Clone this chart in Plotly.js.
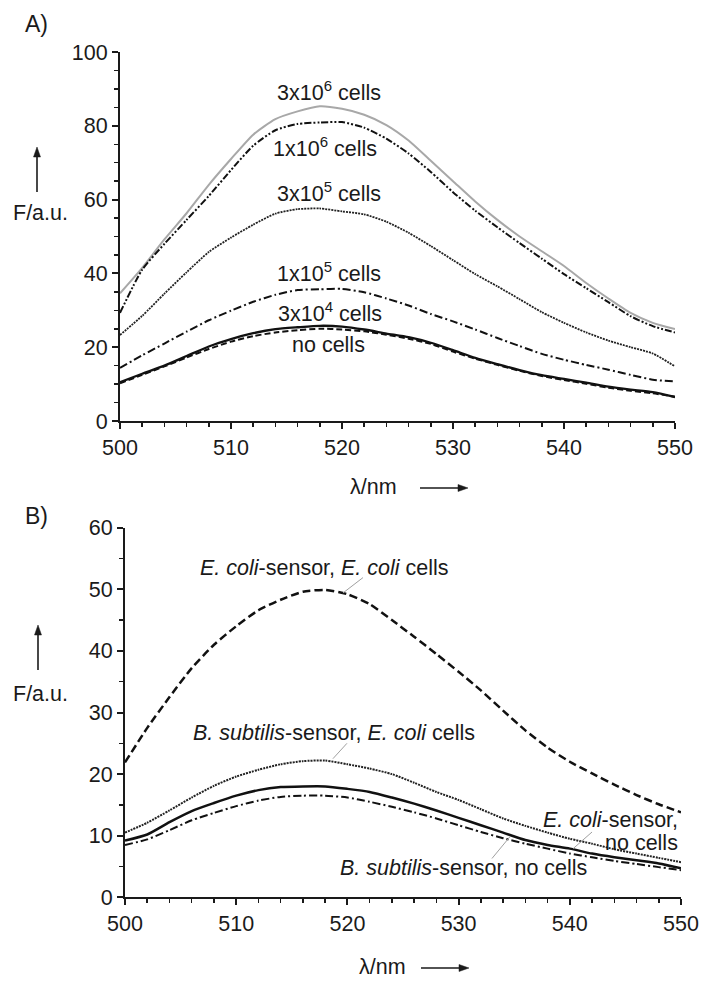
<!DOCTYPE html>
<html>
<head>
<meta charset="utf-8">
<script src="https://cdn.plot.ly/plotly-3.0.1.min.js"></script>
<style>html,body{margin:0;padding:0;background:#fff;}#chart{width:714px;height:987px;}</style>
</head>
<body>
<div id="chart"></div>
<script>
// ---------- DATA ----------
const wavelength = [500,502,504,506,508,510,512,514,516,518,520,522,524,526,528,530,532,534,536,538,540,542,544,546,548,550];

// Panel A
const cells3e6 = [34.6,41.5,49.2,56.3,64.0,71.0,77.6,81.8,83.9,85.3,84.6,83.0,80.2,76.0,70.5,65.0,59.5,54.5,50.0,46.0,42.0,37.4,33.2,29.3,26.6,24.9];
const cells1e6 = [29.3,41.0,48.0,54.5,61.0,68.0,74.6,78.8,80.5,80.9,81.0,79.5,76.5,72.5,67.5,62.0,57.0,52.5,48.2,44.0,39.8,36.0,32.2,28.4,25.7,24.0];
const cells3e5 = [23.3,28.5,34.5,40.3,45.8,49.7,53.2,56.2,57.4,57.6,56.8,56.0,54.0,51.0,47.4,43.6,39.8,36.5,33.0,29.5,26.6,24.0,21.8,20.0,18.3,14.8];
const cells1e5 = [14.4,17.8,21.0,24.2,27.3,29.9,32.3,34.2,35.5,35.7,35.8,34.9,33.2,31.3,29.0,27.0,24.8,22.5,20.3,18.2,16.6,15.2,13.9,12.5,11.2,10.7];
const cells3e4 = [10.5,12.8,15.0,17.6,20.2,22.2,23.8,24.9,25.4,25.8,25.6,24.8,23.7,22.7,21.2,19.2,17.1,15.4,13.8,12.4,11.4,10.4,9.3,8.5,7.8,6.5];
const noCells  = [10.2,12.5,14.8,17.2,19.5,21.5,23.0,24.0,24.6,25.0,24.8,24.3,23.4,22.3,20.9,18.8,16.9,15.2,13.6,12.2,11.1,10.1,9.0,8.2,7.5,6.6];

// Panel B
const ecoliSensorEcoli = [21.9,27.5,32.5,37.2,41.0,44.0,46.6,48.3,49.6,49.9,49.2,47.6,45.0,42.3,39.5,36.6,33.6,30.3,27.1,24.3,22.0,20.1,18.3,16.6,15.1,13.8];
const bsubSensorEcoli  = [10.5,12.1,14.1,16.2,18.1,19.6,20.7,21.6,22.1,22.2,21.6,20.9,20.0,18.6,17.1,15.8,14.3,12.8,11.6,10.5,9.5,8.7,7.8,7.1,6.4,5.7];
const ecoliSensorNone  = [9.2,10.2,12.2,14.0,15.3,16.5,17.4,17.9,18.0,18.0,17.6,17.1,16.2,15.2,14.1,12.9,11.7,10.5,9.3,8.5,7.9,7.1,6.5,6.0,5.5,4.7];
const bsubSensorNone   = [8.5,9.4,10.9,12.5,13.7,14.8,15.7,16.3,16.5,16.5,16.2,15.5,14.7,13.8,12.8,11.7,10.6,9.6,8.7,7.9,7.1,6.5,5.9,5.4,4.9,4.4];

const xTicks = [500,510,520,530,540,550];
const labelsA = ['3x10<sup>6</sup> cells','1x10<sup>6</sup> cells','3x10<sup>5</sup> cells','1x10<sup>5</sup> cells','3x10<sup>4</sup> cells','no cells'];
const labelsB = ['<i>E. coli</i>-sensor, <i>E. coli</i> cells','<i>B. subtilis</i>-sensor, <i>E. coli</i> cells','<i>E. coli</i>-sensor,','no cells','<i>B. subtilis</i>-sensor, no cells'];

// ---------- LAYOUT HELPERS ----------
const W = 714, H = 987;
const px = v => v / W;
const py = v => (H - v) / H;
const FONT = 'Liberation Sans, Arial, Helvetica, sans-serif';
const FS = 21.5;
const INK = '#1a1a1a';

function line(x, y, xa, ya, color, width, dash) {
  return {x: x, y: y, xaxis: xa, yaxis: ya, type: 'scatter', mode: 'lines',
    line: {color: color, width: width, dash: dash, shape: 'spline', smoothing: 0.6},
    hoverinfo: 'skip', showlegend: false};
}

const traces = [
  line(wavelength, cells3e6, 'x', 'y', '#a8a8a8', 2, 'solid'),
  line(wavelength, cells1e6, 'x', 'y', '#111', 2, '7px,2px,2px,2px,2px,2px'),
  line(wavelength, cells3e5, 'x', 'y', '#222', 1.8, '2px,1px'),
  line(wavelength, cells1e5, 'x', 'y', '#111', 2, '8px,3px,2px,3px'),
  line(wavelength, noCells,  'x', 'y', '#111', 2, '6px,3px'),
  line(wavelength, cells3e4, 'x', 'y', '#111', 2.3, 'solid'),
  line(wavelength, ecoliSensorEcoli, 'x2', 'y2', '#111', 2.5, '8px,4px'),
  line(wavelength, bsubSensorEcoli,  'x2', 'y2', '#222', 2, '2px,1px'),
  line(wavelength, ecoliSensorNone,  'x2', 'y2', '#111', 2.5, 'solid'),
  line(wavelength, bsubSensorNone,   'x2', 'y2', '#111', 2, '8px,3px,2px,3px')
];

function xAxis(domain, anchor) {
  return {domain: domain, anchor: anchor, range: [500, 550], tickvals: xTicks,
    showline: true, linecolor: INK, linewidth: 2, ticks: 'outside', ticklen: 6, tickwidth: 2, tickcolor: INK,
    minor: {dtick: 2, tick0: 500, ticks: 'outside', ticklen: 4, tickwidth: 1.5, tickcolor: INK, showgrid: false},
    showgrid: false, zeroline: false, fixedrange: true,
    tickfont: {family: FONT, size: FS, color: INK}};
}
function yAxis(domain, anchor, range, dtick, minorDtick) {
  return {domain: domain, anchor: anchor, range: range, dtick: dtick, tick0: 0,
    showline: true, linecolor: INK, linewidth: 2, ticks: 'outside', ticklen: 6, tickwidth: 2, tickcolor: INK,
    minor: {dtick: minorDtick, tick0: 0, ticks: 'outside', ticklen: 4, tickwidth: 1.5, tickcolor: INK, showgrid: false},
    showgrid: false, zeroline: false, fixedrange: true,
    tickfont: {family: FONT, size: FS, color: INK}};
}

function txt(text, x, y, xref, yref, opts) {
  return Object.assign({text: text, x: x, y: y, xref: xref, yref: yref, showarrow: false,
    font: {family: FONT, size: FS, color: INK}, xanchor: 'center', yanchor: 'middle'}, opts || {});
}

const annotations = [
  // panel letters
  txt('A)', px(36), py(24), 'paper', 'paper', {font: {family: FONT, size: 23, color: INK}}),
  txt('B)', px(36), py(516), 'paper', 'paper', {font: {family: FONT, size: 23, color: INK}}),
  // y titles
  txt('F/a.u.', px(40), py(213), 'paper', 'paper'),
  txt('F/a.u.', px(40), py(694), 'paper', 'paper'),
  // x titles
  txt('λ/nm', px(348), py(487), 'paper', 'paper', {xanchor: 'left'}),
  txt('λ/nm', px(357), py(967), 'paper', 'paper', {xanchor: 'left'}),
  // panel A curve labels
  txt(labelsA[0], 518.8, 89.4, 'x', 'y'),
  txt(labelsA[1], 518.5, 74.3, 'x', 'y'),
  txt(labelsA[2], 518.8, 62.1, 'x', 'y'),
  txt(labelsA[3], 518.8, 40.4, 'x', 'y'),
  txt(labelsA[4], 518.9, 29.5, 'x', 'y'),
  txt(labelsA[5], 518.8, 20.6, 'x', 'y'),
  // panel B curve labels
  txt(labelsB[0], 517.9, 53.5, 'x2', 'y2'),
  txt(labelsB[1], 518.8, 26.6, 'x2', 'y2'),
  txt(labelsB[2], 549.9, 12.5, 'x2', 'y2', {xanchor: 'right'}),
  txt(labelsB[3], 549.9, 8.75, 'x2', 'y2', {xanchor: 'right'}),
  txt(labelsB[4], 530.4, 4.7, 'x2', 'y2')
];

function leader(x0, y0, x1, y1) {
  return {type: 'line', xref: 'x2', yref: 'y2', x0: x0, y0: y0, x1: x1, y1: y1,
    line: {color: '#a0a0a0', width: 1}};
}
// arrows drawn as paper-space shapes (shaft + filled head)
function upArrow(x, yTip, yTail) {
  return [
    {type: 'line', xref: 'paper', yref: 'paper', x0: px(x), x1: px(x), y0: py(yTail), y1: py(yTip + 8),
      line: {color: INK, width: 1.6}},
    {type: 'path', xref: 'paper', yref: 'paper',
      path: `M ${px(x)} ${py(yTip)} L ${px(x - 3.5)} ${py(yTip + 10)} L ${px(x + 3.5)} ${py(yTip + 10)} Z`,
      fillcolor: INK, line: {color: INK, width: 0.5}}
  ];
}
function rightArrow(xTail, xTip, y) {
  return [
    {type: 'line', xref: 'paper', yref: 'paper', x0: px(xTail), x1: px(xTip - 8), y0: py(y), y1: py(y),
      line: {color: INK, width: 1.6}},
    {type: 'path', xref: 'paper', yref: 'paper',
      path: `M ${px(xTip)} ${py(y)} L ${px(xTip - 10)} ${py(y - 3.5)} L ${px(xTip - 10)} ${py(y + 3.5)} Z`,
      fillcolor: INK, line: {color: INK, width: 0.5}}
  ];
}
const shapes = [
  leader(521.4, 51.9, 519.6, 49.4),
  leader(519.96, 25.0, 518.7, 22.5),
  leader(542.0, 10.6, 540.3, 7.9),
  leader(534.6, 9.8, 533.0, 6.3),
  ...upArrow(37, 147, 192),
  ...upArrow(38, 625, 670),
  ...rightArrow(420, 468, 488),
  ...rightArrow(421, 469, 968)
];

const layout = {
  width: W, height: H,
  margin: {l: 0, r: 0, t: 0, b: 0},
  paper_bgcolor: '#fff', plot_bgcolor: 'rgba(0,0,0,0)',
  showlegend: false,
  xaxis: xAxis([px(120), px(675)], 'y'),
  yaxis: yAxis([py(421), py(52)], 'x', [0, 100], 20, 5),
  xaxis2: xAxis([px(125), px(681)], 'y2'),
  yaxis2: yAxis([py(897.3), py(527.7)], 'x2', [0, 60], 10, 5),
  annotations: annotations,
  shapes: shapes
};

Plotly.newPlot('chart', traces, layout, {staticPlot: true, displayModeBar: false});
</script>
</body>
</html>
